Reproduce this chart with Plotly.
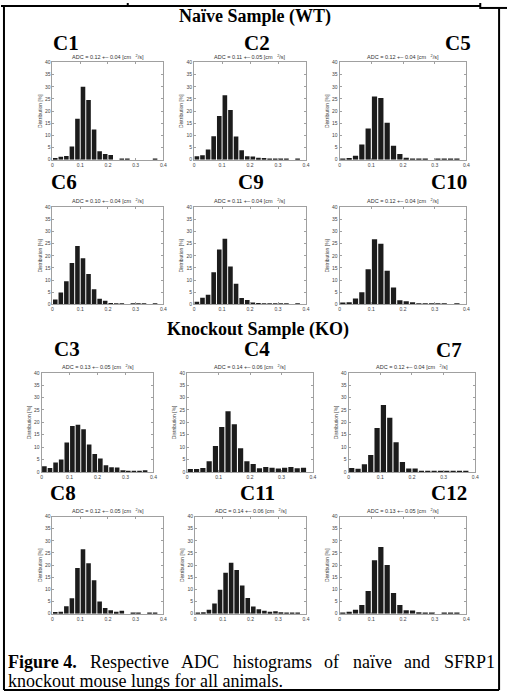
import plotly.graph_objects as go

W, H = 511, 694

bin_centers = [0.01, 0.03, 0.05, 0.07, 0.09, 0.11, 0.13, 0.15, 0.17, 0.19,
               0.21, 0.23, 0.25, 0.27, 0.29, 0.31, 0.33, 0.35, 0.37, 0.39]

# distribution values [%] per animal
c1 = [0.7, 1.2, 1.5, 5.4, 16.8, 30.0, 24.6, 12.4, 3.5, 2.3, 1.9, 0.0, 0.3, 0.1, 0.0, 0.0, 0.0, 0.0, 0.4, 0.0]
c2 = [1.4, 1.8, 4.2, 9.6, 18.0, 26.5, 20.4, 9.5, 3.9, 1.4, 1.3, 0.8, 0.7, 0.5, 0.4, 0.3, 0.2, 0.0, 0.5, 0.0]
c5 = [0.4, 0.7, 1.6, 6.2, 12.8, 26.0, 25.4, 15.2, 5.7, 2.3, 0.8, 0.3, 0.4, 0.3, 0.0, 0.1, 0.3, 0.1, 0.3, 0.0]
c6 = [2.0, 4.9, 9.5, 17.0, 24.0, 19.0, 12.5, 6.2, 2.3, 1.5, 0.6, 0.5, 0.4, 0.0, 0.1, 0.1, 0.1, 0.0, 0.4, 0.0]
c9 = [1.1, 2.7, 4.0, 13.2, 22.6, 27.0, 15.6, 8.5, 2.6, 1.8, 0.8, 0.6, 0.3, 0.1, 0.1, 0.1, 0.1, 0.0, 0.4, 0.0]
c10 = [0.8, 0.9, 2.4, 5.0, 14.5, 26.8, 25.0, 13.8, 6.9, 1.7, 1.3, 0.9, 0.4, 0.3, 0.2, 0.2, 0.1, 0.0, 0.4, 0.0]
c3 = [2.3, 1.6, 3.8, 5.0, 11.9, 18.5, 19.0, 17.2, 11.1, 7.2, 5.4, 2.7, 1.9, 1.8, 0.7, 0.5, 0.5, 0.1, 0.7, 0.0]
c4 = [1.2, 1.2, 1.6, 4.3, 10.5, 18.1, 24.5, 19.2, 9.5, 4.3, 3.2, 1.5, 2.0, 1.7, 1.4, 1.7, 2.0, 1.5, 1.7, 0.0]
c7 = [1.6, 1.3, 3.1, 6.8, 17.7, 27.0, 21.9, 12.0, 4.0, 1.4, 1.4, 0.4, 0.3, 0.3, 0.3, 0.2, 0.3, 0.3, 0.4, 0.0]
c8 = [0.7, 0.8, 3.1, 6.4, 18.8, 26.5, 20.8, 13.8, 5.0, 2.3, 1.4, 0.8, 1.2, 0.0, 0.2, 0.2, 0.0, 0.3, 0.3, 0.0]
c11 = [0.5, 0.6, 1.6, 4.2, 9.9, 16.8, 21.0, 18.0, 11.6, 6.5, 3.0, 1.8, 1.2, 0.8, 1.0, 0.6, 0.4, 0.3, 0.4, 0.0]
c12 = [0.5, 0.8, 1.6, 3.6, 9.3, 22.0, 27.4, 20.0, 8.5, 3.6, 1.4, 1.3, 0.6, 0.4, 0.4, 0.0, 0.3, 0.3, 0.3, 0.0]

names = ["C1", "C2", "C5", "C6", "C9", "C10", "C3", "C4", "C7", "C8", "C11", "C12"]
series = [c1, c2, c5, c6, c9, c10, c3, c4, c7, c8, c11, c12]
adc_mean = ["0.12", "0.11", "0.12", "0.10", "0.11", "0.12", "0.13", "0.14", "0.12", "0.12", "0.14", "0.13"]
adc_sd = ["0.04", "0.05", "0.04", "0.04", "0.04", "0.04", "0.05", "0.06", "0.04", "0.05", "0.06", "0.05"]

x_ticks = [0, 0.1, 0.2, 0.3, 0.4]
x_ticktext = ["0", "0.1", "0.2", "0.3", "0.4"]
y_ticks = [0, 5, 10, 15, 20, 25, 30, 35, 40]

group_titles = ["Naïve Sample (WT)", "Knockout Sample (KO)"]
caption_words_line1 = ["<b>Figure 4.</b>", "Respective", "ADC", "histograms", "of", "naïve", "and", "SFRP1"]
caption_line2 = "knockout mouse lungs for all animals."

# ---------- layout geometry (pixels) ----------
panel_px = [
    (52, 164, 60, 158), (195, 308, 60, 158), (342, 470, 60, 158),
    (52, 164, 206, 304), (195, 308, 206, 304), (342, 470, 206, 304),
    (41, 154, 373, 473), (188, 315, 373, 473), (351, 479, 373, 473),
    (52, 164, 518, 616), (196, 308, 518, 616), (342, 470, 518, 616),
]
label_px = [
    (66, 40), (259, 40), (462, 40),
    (64, 181), (252, 181), (452, 181),
    (67, 349), (259, 349), (452, 350),
    (63, 494), (259, 494), (452, 494),
]
# left edge of each caption word on line 1 (justified text)
caption_word_x = [6, 89, 181, 233, 325, 354, 406, 446]

def px(x):
    return x / W

def py(y):
    return 1 - y / H

fig = go.Figure()
serif = "Liberation Serif"
sans = "Liberation Sans"
annotations = []

for i, (name, vals) in enumerate(zip(names, series)):
    l, r, t, b = panel_px[i]
    k = "" if i == 0 else str(i + 1)
    fig.add_trace(go.Bar(
        x=bin_centers, y=vals, width=0.0165,
        marker=dict(color="#1c1c1c", line=dict(width=0)),
        xaxis="x" + k, yaxis="y" + k, showlegend=False, hoverinfo="x+y",
    ))
    axis_common = dict(
        showline=True, linecolor="#a0a0a0", linewidth=1, mirror="ticks",
        ticks="inside", ticklen=2, tickwidth=0.7, tickcolor="#a0a0a0",
        showgrid=False, zeroline=False,
        tickfont=dict(family=sans, size=5, color="#444444"),
    )
    fig.layout["xaxis" + k] = dict(
        axis_common, domain=[px(l), px(r)], range=[0, 0.4],
        tickvals=x_ticks, ticktext=x_ticktext, anchor="y" + k,
    )
    fig.layout["yaxis" + k] = dict(
        axis_common, domain=[py(b), py(t)], range=[0, 40],
        tickvals=y_ticks, anchor="x" + k,
        title=dict(text="Distribution [%]", font=dict(family=sans, size=5, color="#444444"), standoff=2),
    )
    annotations.append(dict(
        x=px((l + r) / 2), y=py(t - 6), xref="paper", yref="paper",
        text="ADC = %s +\u2013 %s [cm   <sup>2</sup>/s]" % (adc_mean[i], adc_sd[i]),
        showarrow=False, font=dict(family=sans, size=5.5, color="#333333"),
        xanchor="center", yanchor="middle",
    ))
    lx, ly = label_px[i]
    annotations.append(dict(
        x=px(lx), y=py(ly), xref="paper", yref="paper",
        text="<b>%s</b>" % name, showarrow=False,
        font=dict(family=serif, size=21, color="black"),
        xanchor="center", yanchor="middle",
    ))

annotations.append(dict(x=px(257), y=py(14), xref="paper", yref="paper",
                        text="<b>%s</b>" % group_titles[0], showarrow=False,
                        font=dict(family=serif, size=18, color="black"),
                        xanchor="center", yanchor="middle"))
annotations.append(dict(x=px(260), y=py(329), xref="paper", yref="paper",
                        text="<b>%s</b>" % group_titles[1], showarrow=False,
                        font=dict(family=serif, size=18, color="black"),
                        xanchor="center", yanchor="middle"))

cap_font = dict(family=serif, size=18, color="black")
for word, wx in zip(caption_words_line1, caption_word_x):
    annotations.append(dict(x=px(wx), y=py(665), xref="paper", yref="paper",
                            text=word, showarrow=False, font=cap_font,
                            xanchor="left", yanchor="middle", borderpad=0))
annotations.append(dict(x=px(6), y=py(684), xref="paper", yref="paper",
                        text=caption_line2, showarrow=False, font=cap_font,
                        xanchor="left", yanchor="middle", borderpad=0))

line = dict(color="black", width=2)
shapes = [
    dict(type="line", xref="paper", yref="paper", x0=0, x1=px(484), y0=py(3), y1=py(3), line=line),
    dict(type="line", xref="paper", yref="paper", x0=px(128), x1=px(128), y0=py(0), y1=py(3), line=line),
    dict(type="line", xref="paper", yref="paper", x0=px(484), x1=px(484), y0=py(0), y1=py(6), line=line),
    dict(type="line", xref="paper", yref="paper", x0=px(484), x1=1, y0=py(5), y1=py(5), line=line),
    dict(type="line", xref="paper", yref="paper", x0=px(3), x1=px(3), y0=py(3), y1=py(693), line=line),
    dict(type="line", xref="paper", yref="paper", x0=px(503), x1=px(503), y0=py(5), y1=py(693), line=line),
    dict(type="line", xref="paper", yref="paper", x0=px(3), x1=px(503), y0=py(693), y1=py(693), line=line),
]

fig.update_layout(
    width=W, height=H, margin=dict(l=0, r=0, t=0, b=0),
    paper_bgcolor="white", plot_bgcolor="white",
    annotations=annotations, shapes=shapes, bargap=0.1,
)

fig.write_html("out.html", config={"displayModeBar": False},
               post_script="document.body.style.margin='0';document.body.style.overflow='hidden';")
